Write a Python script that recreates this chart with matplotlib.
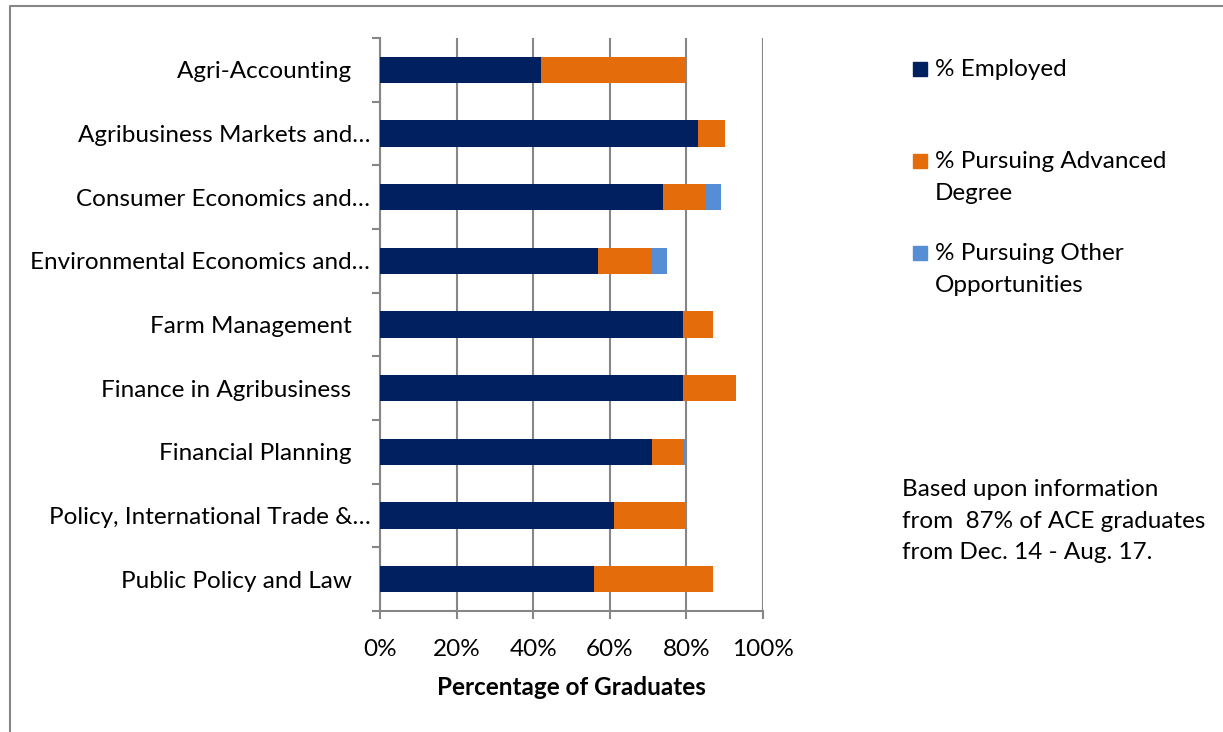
import matplotlib.pyplot as plt
from matplotlib.lines import Line2D
from matplotlib.patches import Rectangle

# trailing spaces as in the source workbook's category names
categories = ["Agri-Accounting   ", "Agribusiness Markets and\u2026", "Consumer Economics and\u2026",
              "Environmental Economics and\u2026", "Farm Management   ", "Finance in Agribusiness   ",
              "Financial Planning   ", "Policy, International Trade &\u2026", "Public Policy and Law   "]
employed = [42, 83, 74, 57, 79, 79, 71, 61, 56]
advanced = [38, 7, 11, 14, 8, 14, 8, 19, 31]
other = [0, 0, 4, 4, 0, 0, 1, 0, 0]
series_names = ["% Employed", "% Pursuing Advanced\nDegree", "% Pursuing Other\nOpportunities"]
colors = ["#002060", "#E46C0A", "#558ED5"]
x_ticks = [0, 20, 40, 60, 80, 100]
note = "Based upon information\nfrom  87% of ACE graduates\nfrom Dec. 14 - Aug. 17."

plt.rcParams['font.family'] = ['Lato', 'DejaVu Sans']
FS = 17.5
W, H = 1223, 732
fig = plt.figure(figsize=(W / 100, H / 100), dpi=100)
ax = fig.add_axes([380 / W, (H - 611) / H, 383 / W, 573 / H])

pos = list(range(len(categories)))
left = [0] * len(categories)
for vals, name, c in zip([employed, advanced, other], series_names, colors):
    ax.barh(pos, vals, left=left, height=0.41, color=c, label=name, zorder=3)
    left = [l + v for l, v in zip(left, vals)]

ax.set_ylim(len(categories) - 0.5, -0.5)
ax.set_xlim(0, 100)
ax.set_yticks([p - 0.5 for p in pos] + [len(categories) - 0.5])
ax.set_yticklabels([])
ax.set_yticks(pos, minor=True)
ax.set_yticklabels(categories, minor=True, fontsize=FS)
ax.tick_params(axis='y', which='minor', length=0, pad=7)
ax.tick_params(axis='y', which='major', length=6, color='#868686', width=1.5)
ax.set_xticks(x_ticks)
ax.set_xticklabels([f"{t}%" for t in x_ticks], fontsize=FS)
ax.tick_params(axis='x', length=6, color='#868686', width=1.5, pad=14)
ax.grid(axis='x', color='#868686', linewidth=1.5, zorder=0)
for s in ['top', 'right']:
    ax.spines[s].set_visible(False)
for s in ['left', 'bottom']:
    ax.spines[s].set_color('#868686')
    ax.spines[s].set_linewidth(1.5)
ax.set_xlabel("Percentage of Graduates", fontsize=FS, fontweight='bold', labelpad=12)

# legend drawn by hand to match spacing
leg_y = [69, 161, 253]
for name, c, y in zip(series_names, colors, leg_y):
    fig.patches.append(Rectangle((913 / W, (H - y - 7) / H), 14 / W, 14 / H,
                                 transform=fig.transFigure, color=c))
    fig.text(935 / W, (H - y + 10) / H, name, fontsize=FS, va='top', linespacing=1.63)

fig.text(902 / W, (H - 479) / H, note, fontsize=FS, va='top', linespacing=1.63)

# outer chart frame (top and left edges visible)
fig.lines.append(Line2D([10 / W, 10 / W, 1.0], [0, (H - 6) / H, (H - 6) / H],
                        transform=fig.transFigure, color='#868686', linewidth=1.5))

fig.savefig("out.png", dpi=100)
